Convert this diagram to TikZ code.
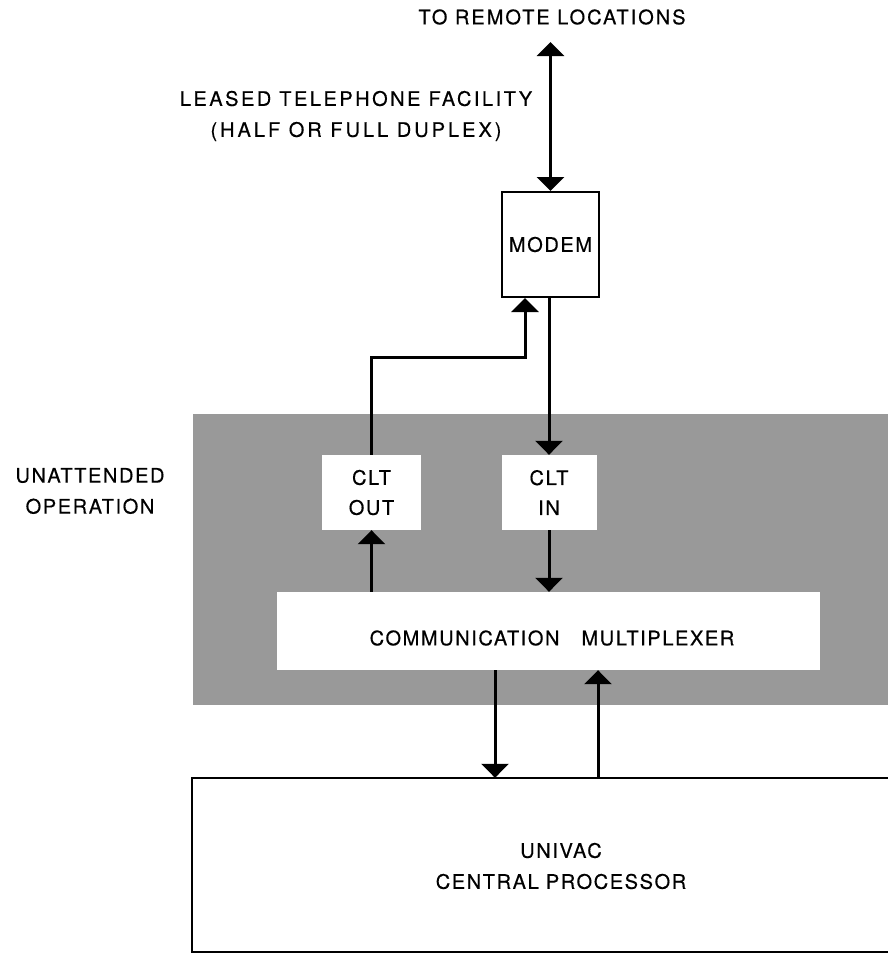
\documentclass[tikz,border=0pt]{standalone}
\usepackage{fontspec}
\newfontfamily\lab[LetterSpace=8,FakeBold=0.4]{TeX Gyre Heros}
\usetikzlibrary{arrows.meta}
\begin{document}
\begin{tikzpicture}[x=1pt,y=-1pt,
  txt/.style={font=\lab\fontsize{20}{31}\selectfont, align=center, inner sep=0pt},
  whitebox/.style={fill=white, inner sep=0pt, font=\lab\fontsize{20}{30}\selectfont, align=center},
  linebox/.style={draw=black, line width=2pt, fill=white, inner sep=0pt, font=\lab\fontsize{20}{30}\selectfont},
  arr/.style={line width=3pt, -{Triangle[width=27pt,length=14pt]}},
  darr/.style={line width=3pt, {Triangle[width=27pt,length=14pt]}-{Triangle[width=27pt,length=14pt]}},
  shadefill/.style={fill=black!40}
]
\useasboundingbox (0,0) rectangle (888,953);
\fill[white] (0,0) rectangle (888,953);

% shaded region
\fill[shadefill] (193,414) rectangle (888,705);

% texts
\node[txt] (remotetxt) at (552,17) {\addfontfeature{LetterSpace=10}TO REMOTE LOCATIONS};
\node[txt] (leased) at (356,116) {{\addfontfeature{LetterSpace=12.5}LEASED TELEPHONE FACILITY}\\{\addfontfeature{LetterSpace=15}(HALF OR FULL DUPLEX)}};
\node[txt] (unatt) at (90,491) {UNATTENDED\\OPERATION};

% boxes
\node[linebox, minimum width=97pt, minimum height=105pt] (modem) at (550.5,244.5) {MODEM};
\node[whitebox, minimum width=99pt, minimum height=75pt] (cltout) at (371.5,492.5) {CLT\\OUT};
\node[whitebox, minimum width=95pt, minimum height=75pt] (cltin) at (549,492.5) {CLT\\IN};
\node[whitebox, minimum width=543pt, minimum height=78pt] (mux) at (548.5,631) {};
\node[txt] (muxtxt) at (552,638) {COMMUNICATION\hspace{22pt}MULTIPLEXER};
\node[inner sep=0pt, minimum width=696pt, minimum height=174pt] (cp) at (540,865) {};
\node[txt] (cptxt) at (561,866) {UNIVAC\\CENTRAL PROCESSOR};
\draw[line width=2.5pt] (cp.north east) -- (cp.north west) -- (cp.south west) -- (cp.south east);

% connectors
\coordinate (remote) at (550.5,42);
\coordinate (bend) at (525,357);
\draw[darr] (remote) -- (modem.north);
\draw[arr] (cltout.north) |- (bend) -- (bend |- modem.south);
\draw[arr] (cltin.north |- modem.south) -- (cltin.north);
\draw[arr] (cltout.south |- mux.north) -- (cltout.south);
\draw[arr] (cltin.south) -- (cltin.south |- mux.north);
\draw[arr] ([xshift=-53.5pt]mux.south) -- ([xshift=-53.5pt]mux.south |- cp.north);
\draw[arr] ([xshift=49.5pt]mux.south |- cp.north) -- ([xshift=49.5pt]mux.south);
\end{tikzpicture}
\end{document}
